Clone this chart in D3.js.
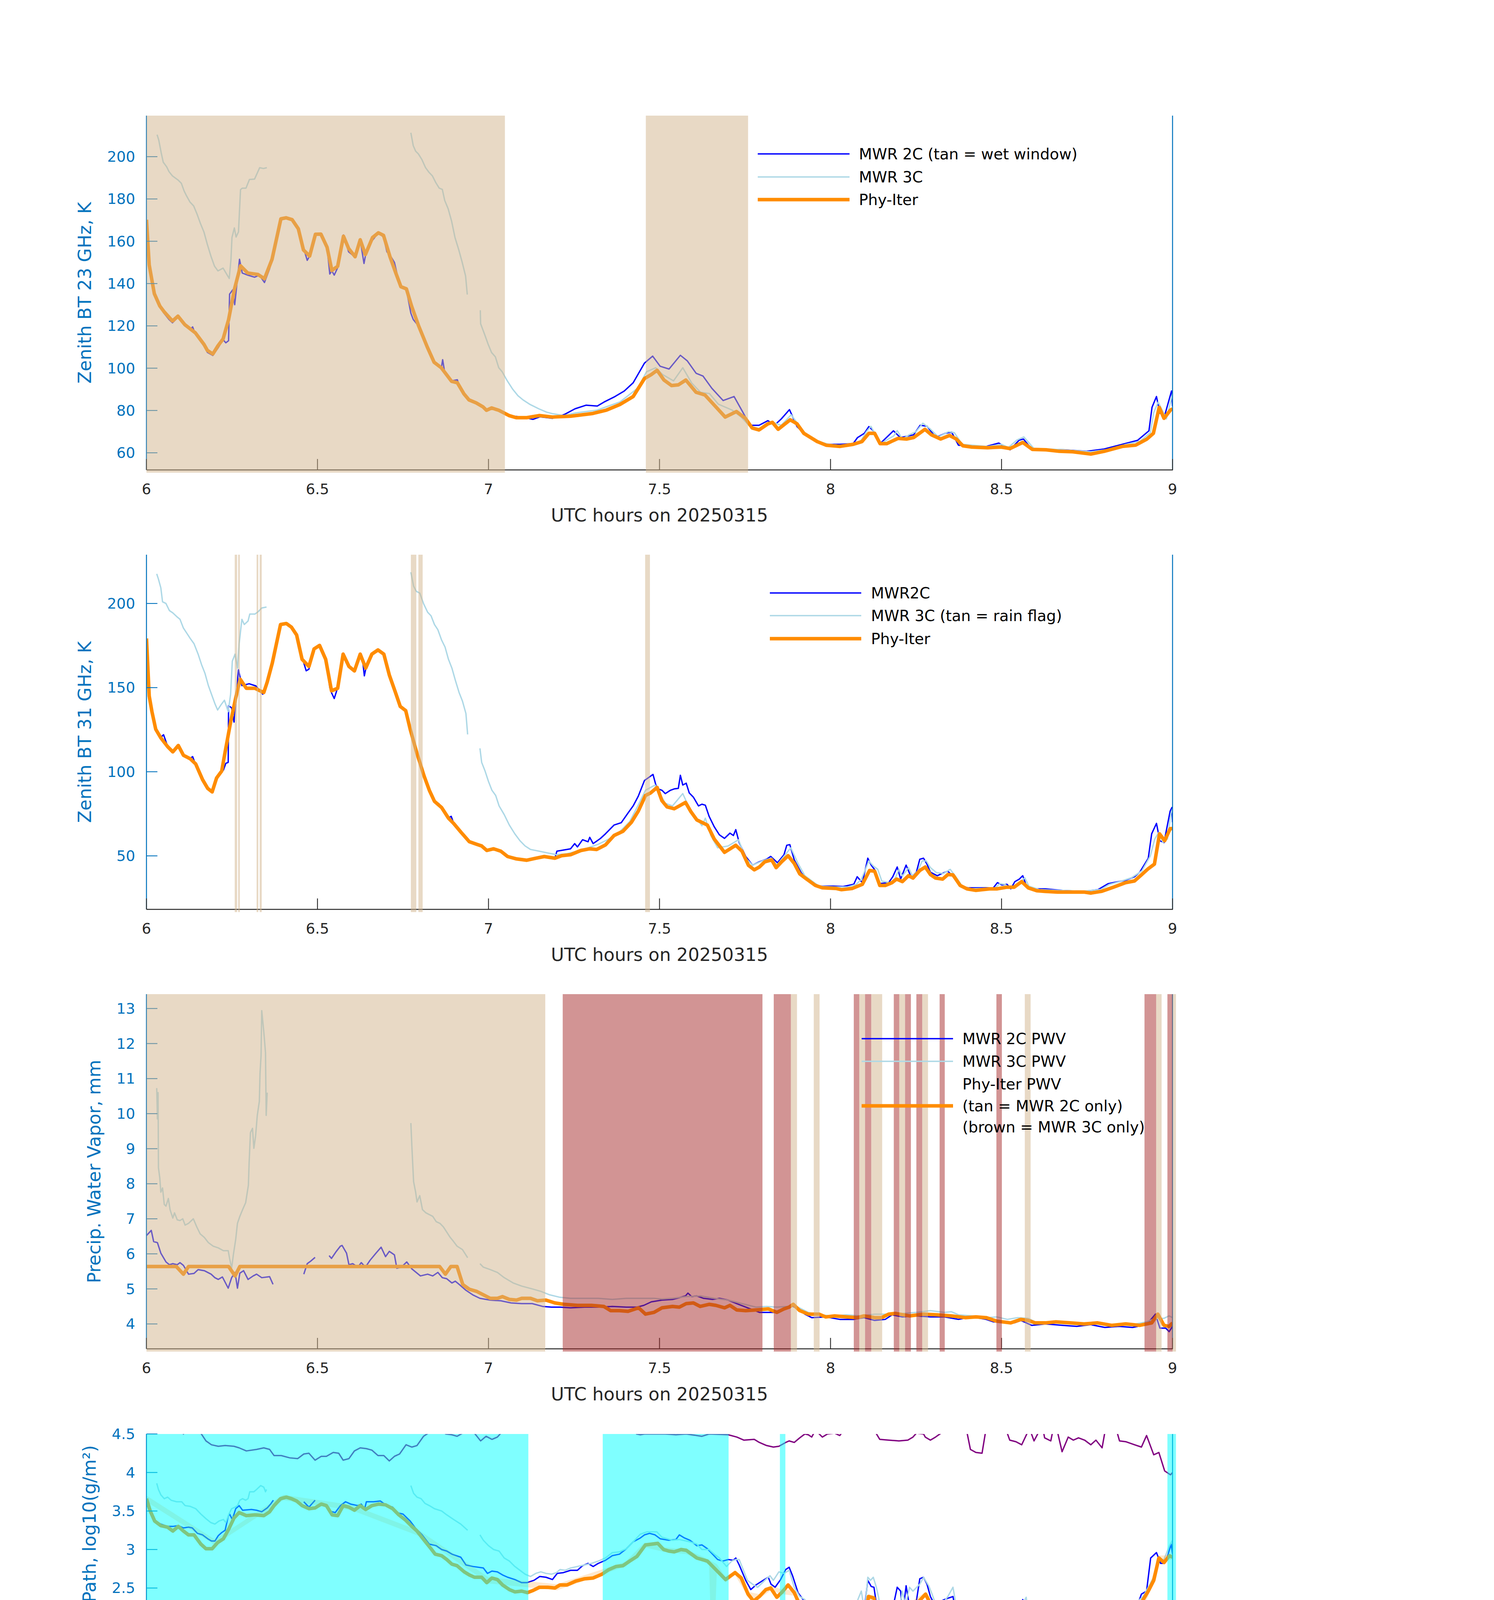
<!DOCTYPE html>
<html><head><meta charset="utf-8">
<script src="https://cdn.jsdelivr.net/npm/d3@7"></script>
<style>body{margin:0;background:#fff}</style>
</head><body>
<svg id="c" width="3825" height="6000" xmlns="http://www.w3.org/2000/svg"></svg>
<script>
// ===================== DATA =====================
const xTicks = [6, 6.5, 7, 7.5, 8, 8.5, 9];
const xLabel = "UTC hours on 20250315";

// ---- Panel 1: Zenith BT 23 GHz ----
const p1Ticks = [60, 80, 100, 120, 140, 160, 180, 200];
const p1Tan = [[6.0, 7.048], [7.460, 7.759]];
const p1Phy = [[6.000,170.2],[6.008,148.8],[6.023,135.2],[6.039,129.4],[6.051,126.8],[6.076,122.3],[6.092,124.6],[6.112,120.6],[6.143,116.7],[6.168,111.3],[6.178,108.4],[6.194,106.7],[6.209,110.6],[6.224,113.8],[6.240,122.9],[6.257,137.2],[6.275,148.4],[6.296,145.0],[6.326,144.3],[6.345,142.3],[6.367,151.4],[6.393,170.6],[6.408,171.1],[6.426,170.2],[6.444,165.9],[6.459,155.9],[6.477,153.0],[6.494,163.3],[6.510,163.4],[6.528,157.2],[6.542,146.2],[6.559,148.2],[6.576,162.4],[6.591,156.6],[6.610,152.7],[6.625,160.7],[6.640,153.7],[6.661,161.8],[6.678,164.0],[6.693,162.8],[6.712,152.7],[6.729,145.0],[6.744,138.5],[6.760,137.5],[6.775,129.4],[6.795,120.3],[6.821,110.0],[6.841,102.8],[6.862,100.2],[6.877,97.0],[6.892,93.8],[6.909,93.1],[6.928,87.9],[6.943,85.0],[6.964,83.6],[6.984,81.7],[6.994,80.1],[7.009,81.2],[7.030,80.1],[7.060,77.6],[7.081,76.6],[7.112,76.6],[7.148,77.6],[7.187,76.9],[7.240,77.3],[7.305,78.6],[7.345,80.2],[7.384,82.8],[7.423,86.6],[7.456,95.1],[7.476,97.0],[7.493,99.0],[7.513,94.4],[7.535,91.8],[7.555,92.1],[7.577,94.4],[7.607,88.6],[7.633,87.3],[7.666,81.5],[7.692,76.9],[7.725,79.5],[7.751,76.3],[7.771,71.7],[7.791,70.8],[7.817,73.7],[7.830,74.4],[7.847,71.1],[7.882,75.6],[7.902,73.7],[7.922,69.2],[7.961,65.3],[7.987,63.6],[8.027,63.0],[8.066,64.0],[8.092,65.3],[8.112,69.2],[8.129,69.2],[8.145,64.3],[8.164,64.3],[8.197,66.8],[8.223,66.5],[8.243,67.2],[8.276,71.1],[8.295,68.5],[8.322,66.5],[8.348,68.2],[8.367,66.6],[8.387,63.3],[8.413,62.7],[8.459,62.4],[8.499,62.7],[8.525,62.0],[8.562,64.9],[8.590,61.6],[8.630,61.4],[8.669,60.7],[8.708,60.5],[8.761,59.4],[8.800,60.7],[8.853,63.0],[8.892,63.6],[8.925,66.5],[8.944,69.2],[8.961,81.5],[8.975,76.3],[8.994,80.2],[9.000,80.8]];
const p1Mwr2c = [[6.000,168],[6.008,148],[6.023,135],[6.039,129],[6.051,126],[6.066,123],[6.076,121.5],[6.092,124],[6.112,120],[6.128,118.5],[6.135,119.5],[6.143,116],[6.168,110.5],[6.178,107.5],[6.194,106],[6.209,109.5],[6.224,113.5],[6.232,112],[6.240,113],[6.243,135],[6.252,137],[6.258,130],[6.272,151.5],[6.280,145],[6.296,144],[6.316,143],[6.330,144],[6.345,140.5],[6.360,147],[6.367,151],[6.393,170],[6.408,171],[6.426,170],[6.444,166],[6.459,157],[6.470,151],[6.477,153],[6.494,163],[6.510,163.5],[6.528,157],[6.536,144.5],[6.542,146],[6.549,144],[6.559,147.5],[6.576,163],[6.591,155],[6.610,152.5],[6.625,160.5],[6.636,149.5],[6.640,153],[6.650,158],[6.661,160.5],[6.678,164],[6.693,162],[6.703,155],[6.712,153.5],[6.725,150],[6.735,143],[6.744,139],[6.760,137],[6.773,126],[6.780,123],[6.795,120],[6.821,110.5],[6.841,103],[6.862,100],[6.866,104],[6.872,98],[6.892,94],[6.909,94.5],[6.915,91],[6.928,88],[6.943,85],[6.964,83.5],[6.984,82],[6.994,80],[7.009,81],[7.030,80],[7.060,77.6],[7.096,76.9],[7.130,75.8],[7.150,77.0],[7.187,76.3],[7.223,78.2],[7.253,80.8],[7.285,82.5],[7.318,82.1],[7.338,84],[7.370,86.6],[7.397,89.2],[7.423,93.1],[7.456,102.4],[7.480,105.7],[7.502,100.9],[7.528,99.6],[7.561,106.1],[7.581,103.5],[7.607,97.6],[7.627,96.3],[7.653,90.5],[7.686,84.7],[7.718,86.6],[7.745,78.8],[7.764,73.0],[7.791,73.0],[7.817,75.2],[7.836,73.0],[7.856,76.0],[7.880,80.4],[7.902,72.4],[7.922,69.2],[7.961,65.3],[7.987,64.0],[8.027,64.0],[8.066,64.3],[8.079,67.2],[8.099,69.2],[8.112,72.4],[8.125,70.4],[8.145,64.3],[8.184,70.4],[8.204,67.2],[8.223,67.8],[8.243,68.5],[8.262,73.0],[8.282,72.6],[8.308,67.2],[8.335,69.2],[8.354,69.8],[8.374,63.6],[8.407,63.3],[8.446,62.6],[8.492,64.6],[8.525,61.4],[8.551,65.9],[8.564,66.5],[8.590,61.4],[8.630,61.6],[8.682,61.4],[8.748,60.7],[8.800,61.8],[8.853,64.0],[8.898,65.9],[8.931,70.4],[8.940,81.5],[8.953,86.6],[8.963,78.8],[8.977,77.6],[8.997,89.2],[9.000,82]];
const p1Mwr3c = [[6.031,210.4],[6.036,207.8],[6.043,201.9],[6.049,197.4],[6.059,195.2],[6.066,192.9],[6.076,190.9],[6.092,189],[6.102,187.4],[6.110,183.8],[6.117,181.5],[6.127,178.6],[6.138,176.7],[6.148,172.8],[6.158,168.3],[6.168,164.4],[6.178,158.5],[6.189,152.7],[6.199,148.2],[6.209,146],[6.224,147.3],[6.235,144.3],[6.242,142.4],[6.247,151.4],[6.250,161.8],[6.257,166.3],[6.262,162],[6.269,164.4],[6.275,184.4],[6.280,185.1],[6.291,185.1],[6.301,189.2],[6.316,189.4],[6.331,194.8],[6.342,194.4],[6.352,194.8],null,
 [6.773,211.3],[6.780,205.2],[6.787,202.6],[6.795,201.3],[6.805,198.7],[6.816,194.8],[6.826,192.6],[6.836,190.9],[6.846,187.7],[6.856,185.1],[6.865,184.5],[6.872,179.3],[6.882,175.4],[6.892,169.6],[6.902,161.8],[6.913,156],[6.923,150.1],[6.933,143.6],[6.938,134.8],null,
 [6.976,127.4],[6.977,121],[6.989,115.8],[6.999,111.3],[7.009,107.4],[7.020,105.4],[7.030,100.2],[7.040,98.3],[7.055,94],[7.071,90],[7.086,87],[7.101,85],[7.122,82.8],[7.147,80.8],[7.170,79.2],[7.187,78.5],[7.220,77.6],[7.253,78.8],[7.318,80.2],[7.384,84],[7.436,90.5],[7.462,98.3],[7.489,100.2],[7.509,97],[7.541,94],[7.568,100.2],[7.594,93],[7.620,88.6],[7.646,88],[7.672,83],[7.712,80.2],[7.738,77],[7.764,72.5],[7.791,71.5],[7.830,74.5],[7.856,73],[7.885,78],[7.905,73.5],[7.925,69.5],[7.961,65.5],[7.995,64],[8.040,63.3],[8.075,64.5],[8.090,66],[8.105,70],[8.118,72.5],[8.130,69],[8.148,64.5],[8.185,68],[8.195,70.5],[8.210,66.5],[8.230,68.5],[8.250,70],[8.270,74],[8.290,71.5],[8.315,67.5],[8.345,70],[8.362,69.5],[8.385,64],[8.420,63.5],[8.460,63],[8.500,64],[8.520,62.5],[8.545,66],[8.565,67.5],[8.595,62],[8.640,61.8],[8.700,61.2],[8.760,60.5],[8.810,61.5],[8.860,63.8],[8.905,65.5],[8.935,69.5],[8.945,79],[8.958,84],[8.970,80],[8.982,76],[9.000,88]];

// ---- Panel 2: Zenith BT 31 GHz ----
const p2Ticks = [50, 100, 150, 200];
const p2Tan = [[6.258,6.265],[6.268,6.273],[6.322,6.327],[6.331,6.337],[6.773,6.789],[6.795,6.8075],[7.458,7.472]];
const p2Phy = [[6.000,179.2],[6.008,145],[6.016,135.7],[6.027,125.3],[6.042,120.1],[6.062,114.9],[6.077,111.8],[6.093,115.6],[6.108,109.8],[6.128,107.7],[6.144,104.6],[6.164,95.3],[6.179,90.1],[6.192,88.0],[6.205,96.3],[6.220,100.4],[6.230,111.8],[6.246,129.5],[6.261,144],[6.274,155],[6.292,149.6],[6.317,149.6],[6.332,148.1],[6.343,147.1],[6.353,153.3],[6.368,164.7],[6.392,187.5],[6.409,188.1],[6.424,185.9],[6.439,181.3],[6.455,166.8],[6.475,162.6],[6.490,173],[6.506,175.1],[6.524,166.8],[6.541,148.1],[6.559,149.6],[6.575,169.9],[6.592,162.6],[6.608,159.9],[6.625,169.9],[6.641,161.6],[6.659,169.9],[6.677,172.4],[6.694,169.9],[6.710,157.5],[6.728,147.1],[6.742,138.8],[6.758,136.3],[6.771,125.3],[6.791,110.8],[6.812,97.3],[6.827,89.0],[6.842,82.4],[6.863,78.7],[6.883,72.4],[6.898,69.3],[6.919,64.2],[6.944,58.4],[6.965,56.9],[6.980,55.9],[6.995,53.2],[7.015,54.2],[7.036,52.8],[7.056,49.6],[7.082,48.2],[7.112,47.4],[7.138,48.6],[7.163,49.6],[7.194,48.6],[7.214,50.1],[7.240,50.7],[7.270,53.2],[7.296,54.2],[7.316,53.8],[7.342,56.5],[7.367,62.1],[7.393,64.6],[7.418,70.0],[7.438,76.6],[7.459,85.9],[7.474,87.4],[7.493,90.7],[7.507,82.8],[7.522,79.1],[7.543,78.0],[7.558,79.7],[7.576,81.8],[7.592,76.2],[7.609,71.4],[7.640,68.3],[7.660,60.0],[7.690,52.1],[7.723,56.3],[7.741,52.8],[7.760,44.4],[7.777,41.7],[7.792,43.4],[7.808,46.5],[7.828,47.6],[7.841,43.0],[7.857,46.5],[7.876,50.1],[7.894,45.5],[7.910,39.3],[7.930,36.2],[7.956,32.4],[7.976,31.0],[8.017,30.6],[8.032,29.9],[8.063,30.6],[8.093,33.1],[8.114,41.3],[8.129,40.9],[8.144,32.4],[8.160,32.4],[8.180,34.1],[8.193,36.2],[8.210,34.7],[8.228,38.2],[8.241,36.8],[8.261,41.3],[8.277,43.4],[8.292,38.9],[8.307,36.8],[8.328,36.2],[8.343,38.9],[8.358,38.7],[8.379,32.4],[8.399,30.4],[8.425,29.5],[8.465,30.4],[8.486,30.4],[8.516,31.4],[8.537,31.4],[8.559,34.7],[8.578,31.0],[8.603,29.3],[8.628,28.9],[8.664,28.5],[8.710,28.5],[8.741,28.5],[8.761,27.9],[8.792,28.9],[8.827,31.4],[8.863,34.1],[8.889,35.1],[8.909,38.7],[8.929,42.4],[8.947,45.1],[8.962,63.1],[8.977,59.0],[8.993,66.2],[9.000,66.2]];
const p2Mwr2c = [[6.000,178],[6.008,146],[6.016,136],[6.027,126],[6.042,120.5],[6.050,122],[6.062,115],[6.077,111.5],[6.093,115],[6.108,110],[6.128,108],[6.135,109],[6.144,104],[6.164,96],[6.179,90.5],[6.192,88],[6.205,95],[6.215,99],[6.225,101],[6.232,105],[6.239,105.6],[6.240,139.2],[6.249,138],[6.256,129.5],[6.269,160.6],[6.279,151.2],[6.300,152.3],[6.320,151],[6.340,146.1],[6.353,153],[6.368,164],[6.380,175],[6.392,187],[6.409,188],[6.424,186],[6.439,181],[6.455,168],[6.467,160],[6.475,161],[6.490,172.5],[6.506,175],[6.524,167],[6.536,150],[6.541,147],[6.549,143.5],[6.559,150],[6.575,170],[6.590,163],[6.608,160],[6.625,170],[6.632,166],[6.637,157],[6.645,165],[6.659,170],[6.677,172.5],[6.694,170],[6.710,158],[6.728,147.5],[6.742,139],[6.758,137],[6.771,124.5],[6.791,111],[6.812,97.5],[6.827,89],[6.842,82.5],[6.855,81],[6.863,79],[6.883,72.5],[6.891,73.5],[6.898,69.5],[6.919,63.5],[6.944,58.5],[6.965,56.9],[6.980,55.9],[6.995,52.8],[7.015,54],[7.036,52.8],[7.056,50],[7.082,48.5],[7.112,47.4],[7.138,48.6],[7.163,49.6],[7.194,48.5],[7.200,52.8],[7.240,54.2],[7.252,57.3],[7.260,55.3],[7.275,59.6],[7.291,58.4],[7.296,61],[7.306,57.3],[7.327,60.3],[7.342,63.1],[7.367,68.3],[7.388,69.7],[7.408,75.5],[7.423,79.7],[7.438,85.5],[7.456,94.8],[7.481,98.4],[7.492,90.1],[7.507,89.0],[7.517,87.0],[7.532,89.0],[7.543,89.8],[7.555,90.1],[7.561,97.9],[7.568,92.1],[7.578,93.2],[7.587,87.4],[7.599,84.9],[7.614,79.7],[7.624,80.7],[7.634,80.1],[7.645,73.5],[7.660,67.3],[7.675,62.5],[7.690,60.4],[7.706,63.5],[7.716,62.1],[7.723,65.6],[7.733,57.9],[7.752,49.7],[7.772,44.5],[7.792,46.5],[7.813,48.0],[7.825,49.7],[7.845,45.9],[7.864,50.7],[7.872,56.3],[7.881,56.7],[7.894,47.6],[7.915,39.7],[7.935,36.2],[7.966,32.0],[8.007,32.0],[8.037,31.8],[8.068,33.1],[8.078,37.6],[8.093,34.1],[8.109,48.6],[8.119,44.5],[8.129,41.8],[8.144,33.5],[8.170,34.1],[8.182,37.6],[8.195,43.4],[8.205,36.2],[8.221,44.5],[8.236,37.2],[8.251,40.3],[8.261,48.0],[8.272,48.6],[8.282,45.1],[8.292,40.3],[8.312,38.2],[8.328,39.7],[8.343,40.9],[8.356,38.2],[8.379,32.0],[8.404,31.0],[8.476,31.0],[8.488,34.1],[8.501,32.7],[8.516,33.1],[8.527,30.4],[8.539,34.7],[8.552,36.2],[8.562,38.2],[8.573,32.0],[8.598,30.4],[8.628,30.4],[8.680,29.4],[8.741,28.9],[8.782,29.9],[8.812,33.5],[8.827,34.1],[8.863,35.5],[8.889,37.6],[8.904,40.3],[8.929,48.6],[8.939,63.1],[8.953,69.3],[8.963,59.0],[8.975,57.9],[8.985,68.3],[8.993,76.6],[8.998,78.7],[9.000,70]];
const p2Mwr3c = [[6.030,217.6],[6.035,214.5],[6.042,209.3],[6.047,201],[6.057,200],[6.067,195.8],[6.077,194.4],[6.088,192.3],[6.098,190.6],[6.108,185.4],[6.118,182.3],[6.128,179.2],[6.139,176.1],[6.151,169.9],[6.161,163.7],[6.171,158.5],[6.181,151.2],[6.192,145],[6.200,140.5],[6.208,136.7],[6.218,139.8],[6.228,142.5],[6.239,135.7],[6.246,146.1],[6.251,165.7],[6.259,169.9],[6.266,161.6],[6.271,176.1],[6.279,190.6],[6.286,187.5],[6.297,189.6],[6.302,193.7],[6.317,193.7],[6.327,195.2],[6.337,197.3],[6.351,197.9],null,
 [6.773,218.6],[6.781,210.3],[6.789,207.2],[6.799,206.2],[6.810,200],[6.822,194.8],[6.832,192.7],[6.842,187.5],[6.852,184.4],[6.863,178.2],[6.873,174.1],[6.883,166.8],[6.893,161.6],[6.903,154.4],[6.914,147.1],[6.924,141.9],[6.934,134.6],[6.939,122.2],null,
 [6.975,113.9],[6.980,105.6],[6.990,100.4],[7.000,94.2],[7.010,89.0],[7.021,85.9],[7.031,79.7],[7.046,74.5],[7.061,68.3],[7.077,63.1],[7.092,59.0],[7.107,55.9],[7.123,53.8],[7.148,52.8],[7.174,51.7],[7.199,50.7],[7.230,51.3],[7.260,52.8],[7.291,54.8],[7.321,56.9],[7.352,60.0],[7.383,64.2],[7.413,70.4],[7.439,80.7],[7.459,89.0],[7.487,92.1],[7.517,81.2],[7.538,79.7],[7.568,87.0],[7.589,77.6],[7.609,72.4],[7.624,67.9],[7.634,72.4],[7.650,62.1],[7.670,54.8],[7.701,55.9],[7.731,59.6],[7.752,48.6],[7.772,44.5],[7.803,47.2],[7.828,48.6],[7.843,44.5],[7.884,54.8],[7.905,45.5],[7.925,38.2],[7.966,32.0],[8.010,31.5],[8.050,31.5],[8.075,33],[8.090,36],[8.100,41],[8.112,47],[8.125,44],[8.138,42],[8.150,35],[8.175,34],[8.190,37],[8.200,42],[8.210,38],[8.228,43],[8.240,38],[8.255,41],[8.268,47],[8.280,47],[8.292,43],[8.310,40],[8.330,39.5],[8.350,42],[8.365,38],[8.385,32],[8.410,30.5],[8.480,30.8],[8.495,33.5],[8.510,33],[8.525,30.8],[8.545,33],[8.558,35],[8.568,37],[8.580,32],[8.610,30],[8.660,29.5],[8.740,29],[8.790,30],[8.815,33],[8.850,35],[8.880,37],[8.910,41],[8.935,50],[8.948,60],[8.960,64],[8.972,58],[8.985,60],[8.995,75],[9.000,78]];

// ---- Panel 3: PWV ----
const p3Ticks = [4, 5, 6, 7, 8, 9, 10, 11, 12, 13];
const p3Tan = [[6.0,7.166],[7.884,7.902],[7.951,7.968],[8.084,8.101],[8.119,8.151],[8.201,8.218],[8.268,8.285],[8.568,8.585],[8.952,8.968],[9.0,9.01]];
const p3Brown = [[7.217,7.801],[7.834,7.884],[8.068,8.084],[8.101,8.119],[8.185,8.201],[8.218,8.235],[8.251,8.268],[8.319,8.334],[8.485,8.501],[8.918,8.952],[8.985,9.0]];
const p3Phy = [[6.000,5.64],[6.087,5.64],[6.108,5.42],[6.123,5.64],[6.240,5.64],[6.259,5.37],[6.273,5.64],[6.400,5.64],[6.600,5.64],[6.857,5.64],[6.874,5.42],[6.890,5.64],[6.908,5.64],[6.925,5.12],[6.944,4.99],[6.965,4.93],[6.985,4.83],[7.005,4.73],[7.026,4.73],[7.041,4.78],[7.061,4.70],[7.082,4.68],[7.097,4.73],[7.123,4.73],[7.143,4.66],[7.168,4.68],[7.194,4.60],[7.220,4.56],[7.260,4.53],[7.301,4.53],[7.337,4.50],[7.357,4.38],[7.383,4.38],[7.408,4.36],[7.439,4.46],[7.459,4.28],[7.484,4.33],[7.507,4.46],[7.538,4.50],[7.558,4.48],[7.578,4.58],[7.599,4.60],[7.619,4.50],[7.645,4.56],[7.665,4.53],[7.690,4.46],[7.706,4.53],[7.726,4.40],[7.752,4.38],[7.782,4.40],[7.818,4.43],[7.843,4.33],[7.864,4.43],[7.879,4.48],[7.891,4.56],[7.910,4.38],[7.935,4.28],[7.966,4.28],[7.986,4.20],[8.012,4.23],[8.047,4.20],[8.078,4.18],[8.098,4.23],[8.129,4.18],[8.149,4.18],[8.170,4.28],[8.190,4.30],[8.231,4.23],[8.272,4.28],[8.312,4.26],[8.353,4.23],[8.394,4.18],[8.425,4.20],[8.455,4.18],[8.486,4.08],[8.527,4.03],[8.557,4.13],[8.578,4.10],[8.598,4.03],[8.628,4.03],[8.659,4.06],[8.700,4.03],[8.741,4.00],[8.781,4.03],[8.822,3.96],[8.863,4.00],[8.904,3.96],[8.939,4.03],[8.957,4.28],[8.975,3.96],[8.990,3.93],[9.000,4.03]];
const p3Mwr2c = [[6.000,6.52],[6.014,6.67],[6.021,6.35],[6.032,6.32],[6.042,6.02],[6.057,5.77],[6.067,5.69],[6.077,5.72],[6.090,5.69],[6.098,5.75],[6.108,5.67],[6.123,5.42],[6.139,5.44],[6.151,5.55],[6.169,5.52],[6.189,5.42],[6.200,5.32],[6.210,5.27],[6.222,5.34],[6.239,5.02],[6.249,5.32],[6.259,5.47],[6.266,5.02],[6.273,5.45],[6.284,5.52],[6.297,5.27],[6.312,5.37],[6.322,5.42],[6.337,5.32],[6.360,5.35],[6.370,5.13],null,
 [6.460,5.42],[6.470,5.72],[6.480,5.79],[6.493,5.90],null,
 [6.534,5.95],[6.541,5.87],[6.555,6.07],[6.567,6.22],[6.572,6.24],[6.585,6.02],[6.592,5.69],[6.603,5.72],[6.618,5.62],[6.628,5.75],[6.640,5.62],[6.654,5.82],[6.671,6.02],[6.686,6.19],[6.699,5.92],[6.710,6.07],[6.725,5.97],[6.732,5.59],[6.745,5.62],[6.761,5.77],[6.776,5.57],[6.801,5.37],[6.822,5.42],[6.837,5.37],[6.852,5.47],[6.865,5.32],[6.878,5.29],[6.893,5.17],[6.903,5.22],[6.914,5.13],[6.934,4.96],[6.954,4.83],[6.975,4.73],[7.005,4.68],[7.036,4.66],[7.066,4.60],[7.097,4.58],[7.128,4.58],[7.158,4.50],[7.184,4.48],[7.209,4.48],[7.240,4.46],[7.281,4.48],[7.321,4.48],[7.362,4.50],[7.403,4.48],[7.434,4.48],[7.454,4.53],[7.476,4.63],[7.507,4.68],[7.538,4.70],[7.558,4.75],[7.576,4.80],[7.583,4.88],[7.594,4.78],[7.609,4.80],[7.629,4.73],[7.655,4.70],[7.675,4.73],[7.701,4.68],[7.726,4.58],[7.752,4.48],[7.792,4.33],[7.823,4.33],[7.843,4.33],[7.864,4.40],[7.884,4.53],[7.905,4.43],[7.925,4.28],[7.945,4.18],[7.986,4.20],[8.027,4.13],[8.068,4.13],[8.098,4.18],[8.129,4.10],[8.160,4.13],[8.180,4.26],[8.210,4.20],[8.251,4.23],[8.292,4.20],[8.333,4.20],[8.374,4.13],[8.414,4.20],[8.455,4.13],[8.476,4.06],[8.517,4.06],[8.537,4.03],[8.557,4.10],[8.588,3.96],[8.628,4.00],[8.680,3.96],[8.720,3.93],[8.761,3.98],[8.802,3.90],[8.843,3.93],[8.883,3.90],[8.924,3.98],[8.950,4.28],[8.963,3.88],[8.980,3.88],[8.990,3.78],[9.000,3.93]];
const p3Mwr3c = [[6.030,10.73],[6.032,9.85],[6.034,10.6],[6.035,8.46],[6.039,8.16],[6.042,7.76],[6.047,7.88],[6.052,7.41],[6.057,7.36],[6.064,7.58],[6.069,7.26],[6.077,7.02],[6.082,7.17],[6.090,6.97],[6.098,6.95],[6.106,7.0],[6.113,6.82],[6.123,6.87],[6.137,7.0],[6.147,6.77],[6.157,6.57],[6.169,6.47],[6.181,6.32],[6.195,6.22],[6.210,6.17],[6.225,6.09],[6.239,6.09],[6.243,5.87],[6.249,5.59],[6.254,5.97],[6.261,6.42],[6.266,6.87],[6.273,7.07],[6.281,7.26],[6.290,7.46],[6.298,7.96],[6.300,8.56],[6.304,9.46],[6.310,9.58],[6.314,9.01],[6.319,9.36],[6.324,9.95],[6.330,10.35],[6.332,11.15],[6.335,11.65],[6.337,12.94],[6.343,12.34],[6.348,11.74],[6.350,9.95],[6.353,10.6],null,
 [6.773,9.73],[6.776,9.06],[6.781,8.06],[6.787,7.76],[6.791,7.48],[6.799,7.66],[6.807,7.26],[6.817,7.17],[6.827,7.12],[6.837,7.07],[6.847,6.92],[6.858,6.87],[6.868,6.77],[6.878,6.62],[6.888,6.47],[6.898,6.35],[6.908,6.22],[6.924,6.12],[6.939,5.89],null,
 [6.975,5.72],[6.985,5.62],[7.005,5.55],[7.026,5.47],[7.046,5.32],[7.072,5.17],[7.097,5.08],[7.128,5.0],[7.153,4.93],[7.179,4.83],[7.209,4.76],[7.240,4.73],[7.281,4.73],[7.321,4.73],[7.362,4.70],[7.403,4.73],[7.444,4.73],[7.484,4.73],[7.507,4.71],[7.538,4.73],[7.578,4.78],[7.619,4.80],[7.660,4.73],[7.701,4.68],[7.741,4.58],[7.782,4.48],[7.813,4.50],[7.843,4.48],[7.874,4.50],[7.894,4.53],[7.915,4.43],[7.935,4.33],[7.966,4.26],[8.007,4.23],[8.047,4.26],[8.088,4.23],[8.129,4.28],[8.170,4.28],[8.210,4.30],[8.251,4.33],[8.292,4.38],[8.333,4.33],[8.353,4.35],[8.374,4.26],[8.414,4.23],[8.455,4.18],[8.486,4.20],[8.517,4.13],[8.547,4.18],[8.578,4.16],[8.598,4.06],[8.639,4.06],[8.680,4.03],[8.720,4.00],[8.761,4.03],[8.802,3.98],[8.843,3.98],[8.883,3.98],[8.924,4.06],[8.950,4.16],[8.975,4.16],[8.990,4.23],[9.000,4.18]];

// ---- Panel 4: log10 LWP ----
const p4Ticks = [0, 0.5, 1, 1.5, 2, 2.5, 3, 3.5, 4, 4.5];
const p4Cyan = [[6.0,7.1165],[7.334,7.702],[7.852,7.868],[8.985,9.01]];
const p4Phy = [[6.000,3.66],[6.011,3.50],[6.024,3.37],[6.042,3.31],[6.062,3.29],[6.077,3.24],[6.093,3.30],[6.108,3.24],[6.123,3.19],[6.139,3.19],[6.159,3.07],[6.174,3.01],[6.192,3.01],[6.208,3.09],[6.225,3.14],[6.241,3.27],[6.256,3.41],[6.271,3.48],[6.292,3.44],[6.317,3.45],[6.343,3.44],[6.360,3.49],[6.373,3.57],[6.392,3.66],[6.409,3.68],[6.424,3.66],[6.439,3.63],[6.455,3.57],[6.475,3.53],[6.493,3.54],[6.511,3.59],[6.526,3.57],[6.543,3.45],[6.559,3.44],[6.575,3.57],[6.592,3.55],[6.608,3.51],[6.625,3.57],[6.641,3.52],[6.659,3.57],[6.679,3.59],[6.699,3.58],[6.720,3.53],[6.738,3.45],[6.758,3.38],[6.776,3.30],[6.791,3.24],[6.812,3.12],[6.832,3.01],[6.844,2.94],[6.863,2.92],[6.878,2.87],[6.893,2.81],[6.908,2.79],[6.929,2.71],[6.944,2.67],[6.959,2.64],[6.980,2.64],[6.995,2.57],[7.010,2.63],[7.026,2.61],[7.041,2.54],[7.061,2.48],[7.077,2.45],[7.097,2.46],[7.114,2.44],[7.131,2.47],[7.149,2.51],[7.173,2.51],[7.194,2.50],[7.209,2.54],[7.230,2.54],[7.255,2.59],[7.281,2.62],[7.306,2.63],[7.332,2.68],[7.352,2.74],[7.373,2.78],[7.393,2.79],[7.413,2.85],[7.434,2.91],[7.459,3.06],[7.495,3.08],[7.512,3.00],[7.527,2.98],[7.543,2.97],[7.563,3.00],[7.578,2.99],[7.609,2.89],[7.640,2.85],[7.660,2.76],[7.693,2.61],[7.721,2.70],[7.739,2.63],[7.759,2.42],[7.775,2.33],[7.792,2.39],[7.811,2.48],[7.825,2.50],[7.843,2.38],[7.859,2.45],[7.876,2.54],[7.894,2.44],[7.910,2.28],[7.930,2.17],[7.956,1.92],[7.976,1.67],[7.991,1.71],[8.012,1.67],[8.025,1.54],[8.042,1.65],[8.063,1.65],[8.078,1.84],[8.096,1.96],[8.111,2.39],[8.127,2.37],[8.142,1.93],[8.160,1.92],[8.178,1.95],[8.192,2.12],[8.211,2.07],[8.228,2.23],[8.243,2.13],[8.261,2.34],[8.278,2.42],[8.294,2.28],[8.310,2.13],[8.328,2.11],[8.343,2.27],[8.358,2.27],[8.376,1.91],[8.392,1.71],[8.409,1.51],[8.427,1.49],[8.445,1.55],[8.463,1.71],[8.481,1.74],[8.498,1.85],[8.521,1.86],[8.542,1.96],[8.559,2.11],[8.578,1.87],[8.593,1.74],[8.610,1.72],[8.626,1.55],[8.642,1.53],[8.651,-1],[8.666,-1],[8.677,1.50],[8.695,1.37],[8.712,1.37],[8.728,1.47],[8.743,1.45],[8.759,1.31],[8.773,1.41],[8.792,1.55],[8.807,1.83],[8.827,2.12],[8.845,2.05],[8.863,2.10],[8.881,2.14],[8.896,2.20],[8.914,2.35],[8.929,2.46],[8.945,2.60],[8.960,2.89],[8.975,2.83],[8.991,2.92],[9.000,2.90]];
// uncertainty band [t, low, high]
const p4PhyBand = [[6.000,3.62,3.70],[6.200,3.06,3.13],[6.400,3.64,3.71],[6.600,3.51,3.58],[6.800,3.17,3.24],[7.000,2.56,2.64],[7.200,2.47,2.55],[7.400,2.78,2.84],[7.456,3.03,3.09],[7.512,2.97,3.03],[7.578,2.94,3.00],[7.630,2.84,2.90],[7.645,2.80,2.86],[7.655,1.28,2.84],[7.668,2.75,2.81],[7.693,2.57,2.64],[7.721,2.67,2.73],[7.759,2.38,2.45],[7.792,2.36,2.42],[7.825,2.47,2.53],[7.859,2.42,2.48],[7.894,2.40,2.47],[7.930,2.05,2.20],[7.956,1.74,1.95],[7.976,1.51,1.70],[7.996,1.60,1.73],[8.017,1.33,1.70],[8.032,1.44,1.66],[8.047,1.44,1.68],[8.063,1.49,1.72],[8.078,1.69,1.87],[8.096,1.87,2.00],[8.111,2.33,2.42],[8.129,2.33,2.40],[8.142,1.85,1.96],[8.170,1.85,1.98],[8.190,2.03,2.14],[8.216,2.14,2.25],[8.251,2.28,2.37],[8.278,2.39,2.45],[8.302,2.16,2.30],[8.318,2.03,2.14],[8.333,2.05,2.14],[8.353,2.23,2.29],[8.379,1.78,1.93],[8.392,1.60,1.73],[8.409,1.31,1.53],[8.430,1.31,1.52],[8.450,1.51,1.58],[8.465,1.60,1.73],[8.486,1.69,1.76],[8.516,1.74,1.89],[8.542,1.78,1.99],[8.559,1.96,2.14],[8.578,1.67,1.90],[8.598,1.62,1.76],[8.618,1.53,1.70],[8.639,1.37,1.58],[8.654,0.65,1.56],[8.664,1.15,1.56],[8.677,1.28,1.58],[8.695,0.96,1.55],[8.712,1.01,1.52],[8.728,1.15,1.55],[8.746,1.10,1.52],[8.759,0.60,1.40],[8.776,1.06,1.48],[8.792,1.33,1.60],[8.812,1.69,1.88],[8.827,2.01,2.16],[8.863,2.04,2.12],[8.894,2.14,2.23],[8.929,2.39,2.48],[8.960,2.85,2.92],[9.000,2.87,2.93]];
const p4Mwr2c = [[6.000,3.59],[6.024,3.37],[6.042,3.33],[6.062,3.30],[6.077,3.30],[6.093,3.31],[6.108,3.28],[6.123,3.29],[6.134,3.28],[6.149,3.21],[6.164,3.19],[6.179,3.14],[6.190,3.11],[6.200,3.11],[6.210,3.18],[6.220,3.22],[6.230,3.25],[6.239,3.43],[6.243,3.46],[6.251,3.39],[6.261,3.53],[6.271,3.57],[6.281,3.51],[6.307,3.52],[6.322,3.51],[6.337,3.49],[6.353,3.54],[6.363,3.59],[6.371,3.64],null,
 [6.460,3.62],[6.475,3.55],[6.493,3.64],null,
 [6.534,3.50],[6.552,3.48],[6.567,3.57],[6.582,3.62],[6.597,3.59],[6.618,3.57],[6.628,3.59],[6.638,3.53],[6.643,3.62],[6.664,3.62],[6.684,3.63],[6.699,3.58],[6.720,3.55],[6.730,3.48],[6.750,3.46],[6.771,3.37],[6.786,3.28],[6.806,3.19],[6.827,3.07],[6.847,3.05],[6.863,3.00],[6.878,2.98],[6.893,2.94],[6.919,2.90],[6.934,2.80],[6.954,2.78],[6.985,2.76],[6.997,2.69],[7.010,2.72],[7.026,2.71],[7.041,2.67],[7.056,2.64],[7.077,2.61],[7.097,2.57],[7.112,2.57],[7.133,2.60],[7.150,2.65],[7.168,2.64],[7.187,2.61],[7.201,2.69],[7.219,2.70],[7.240,2.73],[7.260,2.73],[7.275,2.79],[7.291,2.82],[7.306,2.78],[7.321,2.82],[7.342,2.86],[7.362,2.92],[7.383,2.94],[7.403,3.01],[7.423,3.10],[7.444,3.15],[7.456,3.19],[7.471,3.21],[7.487,3.19],[7.502,3.14],[7.527,3.12],[7.548,3.13],[7.558,3.19],[7.573,3.15],[7.589,3.12],[7.609,3.05],[7.624,3.06],[7.640,3.01],[7.655,2.94],[7.670,2.87],[7.685,2.85],[7.701,2.87],[7.716,2.86],[7.723,2.89],[7.733,2.80],[7.752,2.60],[7.767,2.48],[7.782,2.54],[7.803,2.60],[7.818,2.64],[7.826,2.55],[7.838,2.51],[7.854,2.61],[7.869,2.74],[7.879,2.77],[7.889,2.66],[7.905,2.44],[7.920,2.35],[7.935,2.21],[7.945,2.10],[7.961,2.03],[7.976,1.78],[7.991,1.87],[8.001,1.78],[8.012,1.87],[8.022,1.77],[8.035,1.93],[8.042,1.78],[8.058,1.89],[8.066,1.74],[8.076,2.29],[8.083,2.26],[8.093,1.96],[8.101,2.30],[8.109,2.60],[8.119,2.52],[8.127,2.51],[8.134,2.30],[8.142,2.11],[8.149,1.98],[8.160,2.08],[8.170,2.05],[8.180,2.01],[8.185,2.30],[8.195,2.51],[8.205,2.46],[8.210,2.12],[8.221,2.53],[8.231,2.26],[8.241,2.28],[8.251,2.33],[8.261,2.62],[8.272,2.64],[8.282,2.55],[8.292,2.39],[8.307,2.26],[8.323,2.33],[8.333,2.35],[8.345,2.37],[8.358,2.39],[8.372,2.04],[8.384,1.89],[8.399,1.78],[8.409,1.78],[8.419,1.67],[8.435,1.84],[8.447,1.71],[8.460,1.87],[8.470,1.89],[8.481,1.74],[8.491,2.12],[8.501,2.03],[8.511,2.09],[8.516,1.92],[8.521,2.08],[8.527,1.74],[8.539,2.19],[8.552,2.14],[8.562,2.35],[8.572,2.10],[8.583,1.89],[8.593,1.74],[8.606,1.80],[8.618,1.74],[8.639,1.75],[8.647,1.55],[8.654,1.60],[8.664,1.53],[8.674,1.67],[8.685,1.55],[8.700,1.53],[8.710,1.44],[8.720,1.58],[8.728,1.67],[8.741,1.62],[8.746,1.49],[8.756,1.49],[8.771,1.60],[8.781,1.65],[8.792,1.80],[8.807,1.83],[8.817,2.14],[8.827,2.10],[8.838,2.12],[8.853,2.17],[8.868,2.19],[8.883,2.26],[8.899,2.30],[8.909,2.42],[8.924,2.46],[8.936,2.89],[8.953,2.96],[8.965,2.82],[8.975,2.82],[8.985,2.91],[8.996,3.07],[9.000,2.94]];
const p4Mwr3c = [[6.030,3.86],[6.035,3.78],[6.042,3.71],[6.052,3.66],[6.062,3.68],[6.072,3.64],[6.088,3.62],[6.103,3.62],[6.113,3.57],[6.128,3.56],[6.144,3.53],[6.159,3.46],[6.174,3.40],[6.188,3.35],[6.200,3.33],[6.212,3.37],[6.225,3.39],[6.232,3.35],[6.241,3.46],[6.249,3.53],[6.259,3.55],[6.266,3.57],[6.273,3.64],[6.281,3.66],[6.290,3.64],[6.297,3.66],[6.302,3.75],[6.314,3.75],[6.322,3.78],[6.334,3.83],[6.343,3.81],[6.348,3.75],[6.351,3.78],null,
 [6.773,3.83],[6.781,3.73],[6.791,3.68],[6.803,3.66],[6.814,3.60],[6.827,3.57],[6.842,3.53],[6.863,3.50],[6.878,3.45],[6.898,3.39],[6.919,3.33],[6.939,3.25],null,
 [6.975,3.19],[6.985,3.12],[7.000,3.05],[7.015,3.00],[7.031,2.98],[7.046,2.89],[7.061,2.85],[7.077,2.78],[7.092,2.73],[7.107,2.68],[7.123,2.65],[7.138,2.69],[7.153,2.71],[7.168,2.69],[7.184,2.68],[7.199,2.70],[7.209,2.74],[7.224,2.73],[7.240,2.76],[7.260,2.78],[7.281,2.80],[7.301,2.82],[7.321,2.85],[7.342,2.89],[7.362,2.96],[7.383,2.97],[7.403,3.01],[7.423,3.10],[7.444,3.20],[7.464,3.23],[7.492,3.23],[7.507,3.16],[7.538,3.12],[7.558,3.13],[7.589,3.10],[7.609,3.07],[7.624,3.00],[7.645,3.00],[7.660,2.94],[7.675,2.89],[7.696,2.78],[7.711,2.85],[7.723,2.87],[7.733,2.87],[7.741,2.78],[7.757,2.60],[7.772,2.55],[7.787,2.51],[7.808,2.60],[7.823,2.66],[7.833,2.60],[7.849,2.71],[7.864,2.69],[7.879,2.73],[7.894,2.51],[7.910,2.39],[7.925,2.35],[7.935,2.26],[7.945,2.14],[7.961,2.01],[7.976,2.05],[7.986,1.92],[8.001,1.78],[8.017,1.74],[8.032,1.69],[8.047,1.78],[8.058,1.69],[8.068,1.92],[8.080,2.35],[8.090,2.46],[8.100,2.19],[8.109,2.64],[8.117,2.60],[8.125,2.64],[8.134,2.51],[8.141,2.37],[8.151,2.03],[8.159,2.01],[8.170,2.06],[8.182,2.12],[8.190,2.14],[8.200,2.19],[8.210,2.46],[8.219,2.28],[8.231,2.51],[8.241,2.46],[8.261,2.55],[8.272,2.64],[8.287,2.53],[8.297,2.42],[8.312,2.23],[8.328,2.30],[8.343,2.39],[8.358,2.51],[8.369,2.23],[8.379,2.03],[8.389,1.96],[8.404,1.80],[8.419,1.69],[8.435,1.67],[8.450,1.74],[8.465,1.78],[8.481,1.85],[8.496,1.87],[8.508,2.08],[8.521,1.92],[8.535,2.02],[8.547,2.17],[8.557,2.26],[8.572,2.38],[8.583,2.05],[8.598,1.85],[8.613,1.78],[8.628,1.69],[8.644,1.60],[8.659,1.35],[8.669,1.49],[8.685,1.37],[8.700,1.33],[8.720,1.37],[8.741,1.40],[8.756,1.28],[8.771,1.42],[8.792,1.60],[8.812,1.74],[8.827,2.14],[8.843,2.15],[8.863,2.19],[8.883,2.26],[8.899,2.33],[8.914,2.39],[8.929,2.51],[8.945,2.64],[8.960,2.85],[8.975,2.87],[8.991,3.05],[9.000,3.12]];
const p4Adiab = [[6.000,4.60],[6.103,4.55],[6.108,4.50],[6.118,4.55],[6.159,4.51],[6.174,4.41],[6.190,4.36],[6.210,4.34],[6.230,4.35],[6.256,4.34],[6.271,4.32],[6.292,4.28],[6.322,4.30],[6.343,4.32],[6.360,4.30],[6.373,4.22],[6.394,4.22],[6.419,4.19],[6.442,4.18],[6.460,4.24],[6.475,4.25],[6.493,4.16],[6.511,4.21],[6.526,4.21],[6.546,4.26],[6.562,4.25],[6.575,4.16],[6.592,4.18],[6.608,4.28],[6.625,4.32],[6.643,4.31],[6.659,4.29],[6.677,4.22],[6.694,4.22],[6.710,4.15],[6.725,4.21],[6.740,4.24],[6.759,4.36],[6.776,4.33],[6.791,4.35],[6.810,4.47],[6.827,4.52],[6.852,4.60],[6.875,4.50],[6.893,4.49],[6.908,4.47],[6.924,4.51],[6.944,4.60],[6.959,4.51],[6.977,4.41],[6.993,4.47],[7.010,4.43],[7.026,4.46],[7.036,4.51],[7.066,4.55],[7.097,4.60],[7.301,4.60],[7.309,4.51],[7.316,4.60],[7.423,4.60],[7.433,4.50],[7.444,4.49],[7.456,4.50],[7.517,4.50],[7.548,4.49],[7.578,4.50],[7.609,4.48],[7.624,4.47],[7.645,4.50],[7.701,4.49],[7.726,4.46],[7.747,4.42],[7.777,4.43],[7.792,4.39],[7.813,4.35],[7.833,4.33],[7.849,4.34],[7.869,4.39],[7.879,4.41],[7.894,4.39],[7.910,4.45],[7.925,4.50],[7.935,4.49],[7.945,4.46],[7.956,4.55],[7.976,4.46],[7.991,4.50],[8.012,4.51],[8.027,4.48],[8.037,4.54],[8.088,4.62],[8.129,4.54],[8.144,4.43],[8.170,4.42],[8.200,4.41],[8.226,4.42],[8.241,4.46],[8.251,4.51],[8.272,4.50],[8.277,4.46],[8.292,4.42],[8.307,4.46],[8.323,4.51],[8.353,4.53],[8.399,4.52],[8.409,4.30],[8.425,4.26],[8.443,4.25],[8.453,4.52],[8.476,4.60],[8.516,4.52],[8.524,4.42],[8.542,4.40],[8.559,4.36],[8.576,4.52],[8.586,4.52],[8.595,4.41],[8.608,4.52],[8.623,4.52],[8.626,4.45],[8.644,4.41],[8.649,4.52],[8.664,4.52],[8.677,4.27],[8.695,4.46],[8.710,4.42],[8.725,4.45],[8.743,4.42],[8.761,4.36],[8.776,4.42],[8.794,4.32],[8.802,4.52],[8.838,4.52],[8.845,4.41],[8.863,4.40],[8.889,4.36],[8.909,4.33],[8.924,4.48],[8.945,4.23],[8.960,4.26],[8.977,4.02],[8.994,3.97],[9.000,4.00]];

// ---- Panel 5: DQ flag (minute index ranges since 06:00 UTC) ----
const p5Ticks = [0, 2, 4, 6, 8, 10];
const p5Flags = [
  {flag: 11, mins: [[0,66],[80,101],[111,111],[179,180]]},
  {flag: 10, mins: [[0,50],[58,60],[64,65],[80,101],[111,111],[180,180]]},
  {flag: 9,  mins: [[14,44],[86,88],[91,92],[179,179]]},
  {flag: 7,  mins: [[0,14],[16,54]]},
  {flag: 6,  mins: [[0,55],[60,60],[63,64],[78,78],[83,83],[85,89],[91,95],[97,99],[102,102],[104,104],[106,107],[159,159],[178,180]]},
  {flag: 0,  mins: [[67,77],[79,79],[103,103],[105,105],[108,110],[112,158],[160,177]]}
];

// ===================== DRAWING =====================
const FONT = "DejaVu Sans";
const C2 = "#0000FF", C3 = "#ADD8E6", CO = "#FF8C00", CP = "#800080";
const AX = "#0072BD", DK = "#262626";
const svg = d3.select("#c");
svg.append("rect").attr("width", 3825).attr("height", 6000).attr("fill", "#fff");
const x = d3.scaleLinear().domain([6, 9]).range([375, 3002]);
const X0 = 375, X1 = 3002;

const panels = [
  {top: 296, bottom: 1203, ydom: [51.9, 219.4], ticks: p1Ticks, ylabel: "Zenith BT 23 GHz, K",
   lines: [[p1Mwr2c, C2, 3.5], [p1Mwr3c, C3, 3.5], [p1Phy, CO, 9]],
   patches: [[p1Tan, "#D2B48C"]],
   legend: {x0: 1940, x1: 2175, tx: 2199, rows: [[394, "MWR 2C (tan = wet window)", C2, 3.5], [453, "MWR 3C", C3, 3.5], [511, "Phy-Iter", CO, 9]]}},
  {top: 1420, bottom: 2328, ydom: [18.2, 229], ticks: p2Ticks, ylabel: "Zenith BT 31 GHz, K",
   lines: [[p2Mwr2c, C2, 3.5], [p2Mwr3c, C3, 3.5], [p2Phy, CO, 9]],
   patches: [[p2Tan, "#D2B48C"]],
   legend: {x0: 1971, x1: 2205, tx: 2230, rows: [[1518, "MWR2C", C2, 3.5], [1576, "MWR 3C (tan = rain flag)", C3, 3.5], [1635, "Phy-Iter", CO, 9]]}},
  {top: 2545, bottom: 3453, ydom: [3.29, 13.41], ticks: p3Ticks, ylabel: "Precip. Water Vapor, mm",
   lines: [[p3Mwr2c, C2, 3.5], [p3Mwr3c, C3, 3.5], [p3Phy, CO, 9]],
   patches: [[p3Tan, "#D2B48C"], [p3Brown, "#A52A2A"]],
   legend: {x0: 2206, x1: 2440, tx: 2464, rows: [[2659, "MWR 2C PWV", C2, 3.5], [2717, "MWR 3C PWV", C3, 3.5], [2775, "Phy-Iter PWV", null, 0], [2831, "(tan = MWR 2C only)", CO, 9], [2885, "(brown = MWR 3C only)", null, 0]]}},
  {top: 3671, bottom: 4578, ydom: [-0.1, 4.5], ticks: p4Ticks, ylabel: "log10 Liquid Water Path, log10(g/m\u00B2)",
   lines: [[p4Mwr2c, C2, 3.5], [p4Mwr3c, C3, 3.5], ["band", p4PhyBand], [p4Phy, CO, 9], [p4Adiab, CP, 3.5]],
   patches: [[p4Cyan, "#00FFFF"]],
   legend: {x0: 548, x1: 782, tx: 806, rows: [[4338, "MWR 2C LWP", C2, 3.5], [4395, "MWR 3C LWP", C3, 3.5], [4453, "Phy-Iter LWP", CO, 9], [4511, "Adiabatic LWP", CP, 3.5]]}},
  {top: 4795, bottom: 5704, ydom: [-0.5, 11.5], ticks: p5Ticks, ylabel: "MWR Phy Iter DQ Flag",
   lines: [], patches: [], dots: p5Flags, legend: null}
];

panels.forEach((P, i) => {
  const y = d3.scaleLinear().domain(P.ydom).range([P.bottom, P.top]);
  const g = svg.append("g");
  const cid = "clip" + i;
  svg.append("clipPath").attr("id", cid).append("rect")
    .attr("x", X0).attr("y", P.top).attr("width", X1 - X0).attr("height", P.bottom - P.top + 6);
  const gl = g.append("g").attr("clip-path", `url(#${cid})`);
  const line = d3.line().defined(d => d !== null).x(d => x(d[0])).y(d => y(d[1]));
  P.lines.forEach(L => {
    if (L[0] === "band") {
      const area = d3.area().x(d => x(d[0])).y0(d => y(d[1])).y1(d => y(d[2]));
      gl.append("path").attr("d", area(L[1])).attr("fill", CO).attr("fill-opacity", 0.2).attr("stroke", "none");
    } else {
      gl.append("path").attr("d", line(L[0])).attr("fill", "none").attr("stroke", L[1])
        .attr("stroke-width", L[2]).attr("stroke-linejoin", "round").attr("stroke-linecap", "butt");
    }
  });
  if (P.dots) {
    const gd = g.append("g");
    P.dots.forEach(F => {
      F.mins.forEach(r => {
        for (let m = r[0]; m <= r[1]; m++) {
          gd.append("circle").attr("cx", x(6 + (m + 0.5) / 60)).attr("cy", y(F.flag)).attr("r", 3.3).attr("fill", CO);
        }
      });
    });
  }
  // axes
  g.append("line").attr("x1", X0).attr("x2", X0).attr("y1", P.top).attr("y2", P.bottom).attr("stroke", AX).attr("stroke-width", 2.5);
  g.append("line").attr("x1", X1).attr("x2", X1).attr("y1", P.top).attr("y2", P.bottom).attr("stroke", AX).attr("stroke-width", 2.5);
  g.append("line").attr("x1", X0).attr("x2", X1 + 1).attr("y1", P.bottom).attr("y2", P.bottom).attr("stroke", DK).attr("stroke-width", 2.5);
  // y ticks
  const tl = [];
  P.ticks.forEach(v => {
    g.append("line").attr("x1", X0).attr("x2", X0 + 28).attr("y1", y(v)).attr("y2", y(v)).attr("stroke", AX).attr("stroke-width", 2.2);
    const t = g.append("text").attr("x", X0 - 29).attr("y", y(v)).attr("text-anchor", "end")
      .attr("dominant-baseline", "central").attr("font-family", FONT).attr("font-size", 37.5).attr("fill", AX).text(String(v));
    tl.push(t);
  });
  // x ticks
  xTicks.forEach(v => {
    g.append("line").attr("x1", x(v)).attr("x2", x(v)).attr("y1", P.bottom).attr("y2", P.bottom - 28).attr("stroke", DK).attr("stroke-width", 2.2);
    g.append("text").attr("x", x(v)).attr("y", P.bottom + 49).attr("text-anchor", "middle")
      .attr("dominant-baseline", "central").attr("font-family", FONT).attr("font-size", 37.5).attr("fill", DK).text(String(v));
  });
  g.append("text").attr("x", (X0 + X1) / 2).attr("y", P.bottom + 116).attr("text-anchor", "middle")
    .attr("dominant-baseline", "central").attr("font-family", FONT).attr("font-size", 46).attr("fill", DK).text(xLabel);
  let minX = X0 - 29;
  tl.forEach(t => { const b = t.node().getBBox(); if (b.x < minX) minX = b.x; });
  const cx = minX - 57, cy = (P.top + P.bottom) / 2;
  g.append("text").attr("transform", `translate(${cx},${cy}) rotate(-90)`).attr("text-anchor", "middle")
    .attr("dominant-baseline", "central").attr("font-family", FONT).attr("font-size", 46).attr("fill", AX).text(P.ylabel);
  // translucent patches on top
  P.patches.forEach(pp => {
    pp[0].forEach(r => {
      g.append("rect").attr("x", x(r[0])).attr("width", x(r[1]) - x(r[0])).attr("y", P.top)
        .attr("height", P.bottom - P.top + 7).attr("fill", pp[1]).attr("fill-opacity", 0.5);
    });
  });
  // legend
  if (P.legend) {
    const Lg = P.legend;
    Lg.rows.forEach(r => {
      if (r[2]) g.append("line").attr("x1", Lg.x0).attr("x2", Lg.x1).attr("y1", r[0]).attr("y2", r[0]).attr("stroke", r[2]).attr("stroke-width", r[3]);
      g.append("text").attr("x", Lg.tx).attr("y", r[0]).attr("dominant-baseline", "central")
        .attr("font-family", FONT).attr("font-size", 39).attr("fill", "#000").text(r[1]);
    });
  }
});
</script>
</body></html>
